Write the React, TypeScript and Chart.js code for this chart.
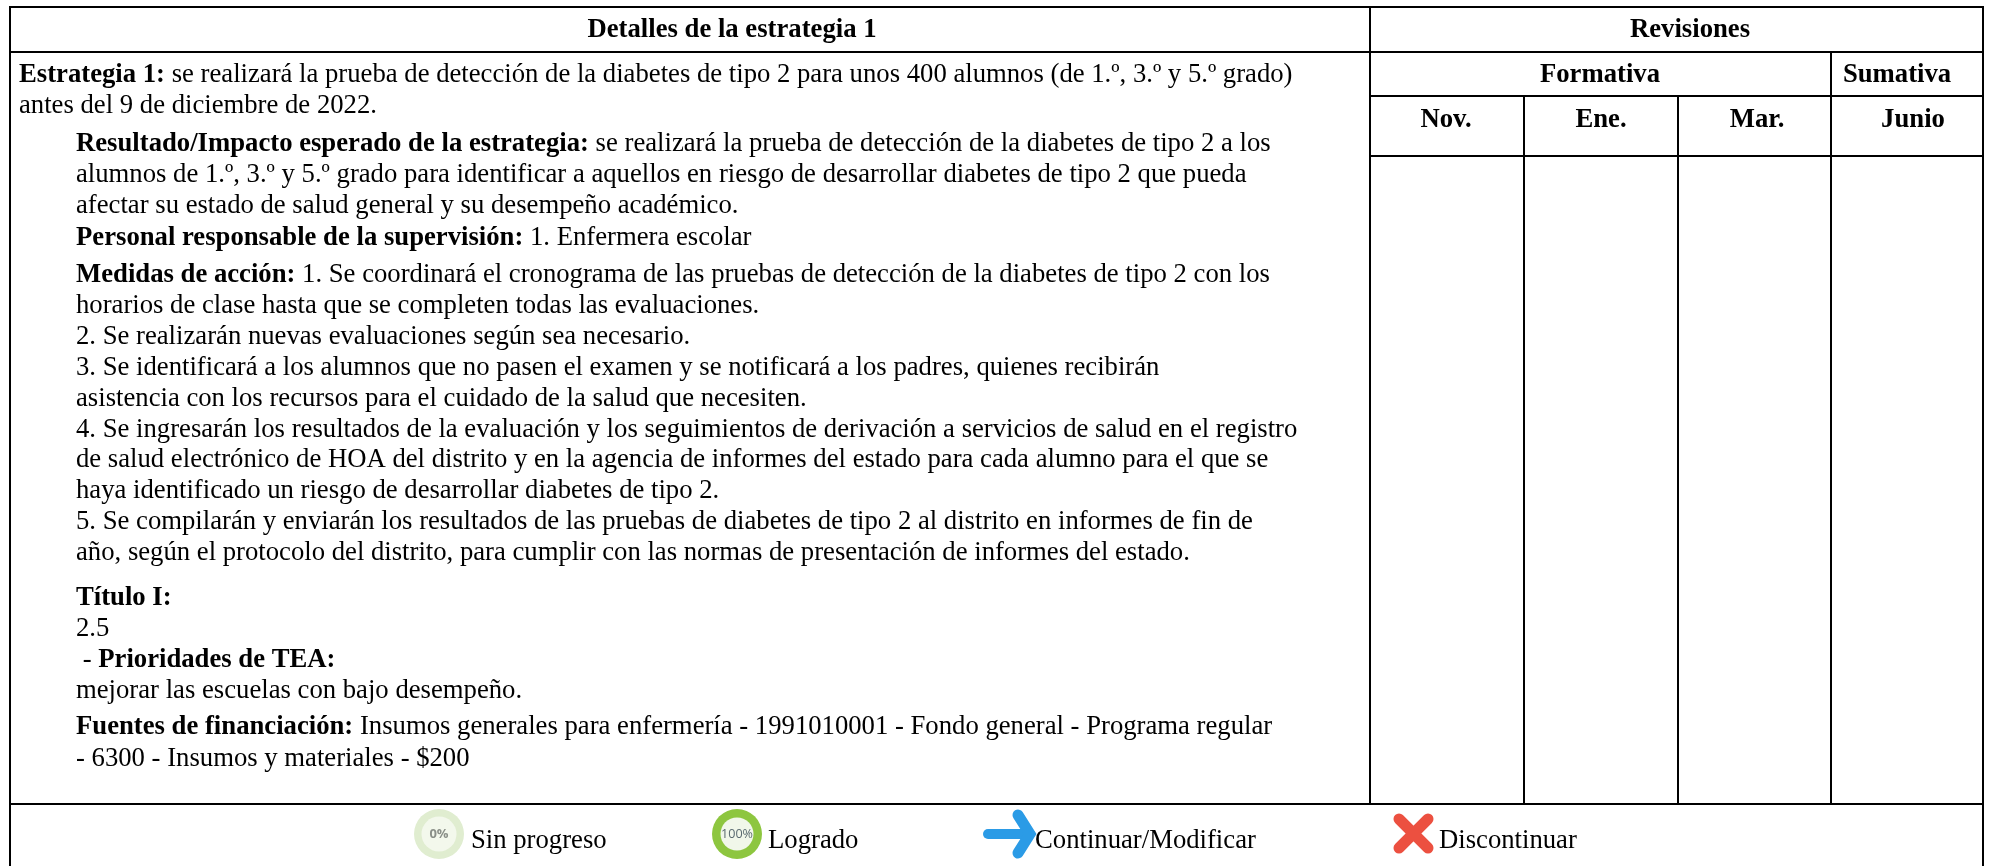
import React, { useEffect, useRef } from "react";
import { Chart, registerables } from "chart.js";

Chart.register(...registerables);

const WIDTH = 1989;
const HEIGHT = 866;

// Table content
const tableHeaders = ["Detalles de la estrategia 1", "Revisiones"];
const reviewGroups = ["Formativa", "Sumativa"];
const reviewMonths = ["Nov.", "Ene.", "Mar.", "Junio"];
const legendLabels = ["Sin progreso", "Logrado", "Continuar/Modificar", "Discontinuar"];

type Run = [string, boolean];
const bodyLines: Run[][] = [
  [["Estrategia 1:", true], [" se realizará la prueba de detección de la diabetes de tipo 2 para unos 400 alumnos (de 1.º, 3.º y 5.º grado)", false]],
  [["antes del 9 de diciembre de 2022.", false]],
  [["Resultado/Impacto esperado de la estrategia:", true], [" se realizará la prueba de detección de la diabetes de tipo 2 a los", false]],
  [["alumnos de 1.º, 3.º y 5.º grado para identificar a aquellos en riesgo de desarrollar diabetes de tipo 2 que pueda", false]],
  [["afectar su estado de salud general y su desempeño académico.", false]],
  [["Personal responsable de la supervisión:", true], [" 1. Enfermera escolar", false]],
  [["Medidas de acción:", true], [" 1. Se coordinará el cronograma de las pruebas de detección de la diabetes de tipo 2 con los", false]],
  [["horarios de clase hasta que se completen todas las evaluaciones.", false]],
  [["2. Se realizarán nuevas evaluaciones según sea necesario.", false]],
  [["3. Se identificará a los alumnos que no pasen el examen y se notificará a los padres, quienes recibirán", false]],
  [["asistencia con los recursos para el cuidado de la salud que necesiten.", false]],
  [["4. Se ingresarán los resultados de la evaluación y los seguimientos de derivación a servicios de salud en el registro", false]],
  [["de salud electrónico de HOA del distrito y en la agencia de informes del estado para cada alumno para el que se", false]],
  [["haya identificado un riesgo de desarrollar diabetes de tipo 2.", false]],
  [["5. Se compilarán y enviarán los resultados de las pruebas de diabetes de tipo 2 al distrito en informes de fin de", false]],
  [["año, según el protocolo del distrito, para cumplir con las normas de presentación de informes del estado.", false]],
  [["Título I:", true]],
  [["2.5", false]],
  [[" - ", false], ["Prioridades de TEA:", true]],
  [["mejorar las escuelas con bajo desempeño.", false]],
  [["Fuentes de financiación:", true], [" Insumos generales para enfermería - 1991010001 - Fondo general - Programa regular", false]],
  [["- 6300 - Insumos y materiales - $200", false]],
];

// Layout of the table, in canvas units
const bodyX = [19, 19, 76, 76, 76, 76, 76, 76, 76, 76, 76, 76, 76, 76, 76, 76, 76, 76, 76, 76, 76, 76];
const bodyY = [82, 113, 151, 182, 213, 245, 282, 313, 344, 375, 406, 437, 467, 498, 529, 560, 605, 636, 667, 698, 734, 766];
const colEdges = [10, 1370, 1524, 1678, 1831, 1983];
const rowEdges = [7, 52, 96, 156, 804, 866];
const FONT_SIZE = 26.7;

function App() {
  const ref = useRef<HTMLCanvasElement>(null);
  useEffect(() => {
    document.body.style.margin = "0";
    const [c0, c1, c2, c3, c4, c5] = colEdges;
    const [r0, r1, r2, r3, r4, r5] = rowEdges;
    const segments = [
      [c0, r0, c5, r0], [c0, r1, c5, r1], [c1, r2, c5, r2], [c1, r3, c5, r3], [c0, r4, c5, r4],
      [c0, r0, c0, r5], [c5, r0, c5, r5], [c1, r0, c1, r4], [c4, r1, c4, r4], [c2, r2, c2, r4], [c3, r2, c3, r4],
    ];
    const datasets = segments.map((s) => ({
      type: "line" as const,
      data: [{ x: s[0], y: s[1] }, { x: s[2], y: s[3] }],
      borderColor: "#000",
      borderWidth: 2,
      borderCapStyle: "square" as const,
      pointRadius: 0,
      tension: 0,
      clip: false as const,
    }));
    const textPlugin = {
      id: "tableText",
      afterDraw(chart: any) {
        const { ctx, scales } = chart;
        const X = (v: number) => scales.x.getPixelForValue(v);
        const Y = (v: number) => scales.y.getPixelForValue(v);
        const fam = '"Liberation Serif"';
        const font = (b: boolean, size = FONT_SIZE) => `${b ? "bold " : ""}${size}px ${fam}`;
        ctx.save();
        ctx.fillStyle = "#000";
        ctx.textBaseline = "alphabetic";
        ctx.textAlign = "left";
        bodyLines.forEach((runs, i) => {
          let x = X(bodyX[i]);
          runs.forEach(([t, b]) => {
            ctx.font = font(b);
            ctx.fillText(t, x, Y(bodyY[i]));
            x += ctx.measureText(t).width;
          });
        });
        ctx.textAlign = "center";
        ctx.font = font(true);
        ctx.fillText(tableHeaders[0], X(732), Y(37));
        ctx.fillText(tableHeaders[1], X(1690), Y(37));
        ctx.fillText(reviewGroups[0], X(1600), Y(82));
        ctx.fillText(reviewGroups[1], X(1897), Y(82));
        const mx = [1446, 1601, 1757, 1913];
        reviewMonths.forEach((m, i) => ctx.fillText(m, X(mx[i]), Y(127)));
        ctx.textAlign = "left";
        ctx.font = font(false);
        const lx = [471, 768, 1035, 1439];
        legendLabels.forEach((t, i) => ctx.fillText(t, X(lx[i]), Y(848)));

        // legend icons
        const ring = (cx: number, cy: number, outer: number, inner: number, ringC: string, innerC: string) => {
          ctx.beginPath();
          ctx.arc(X(cx), Y(cy), outer, 0, Math.PI * 2);
          ctx.fillStyle = ringC;
          ctx.fill();
          ctx.beginPath();
          ctx.arc(X(cx), Y(cy), inner, 0, Math.PI * 2);
          ctx.fillStyle = innerC;
          ctx.fill();
        };
        ring(439, 834, 25, 17.5, "#e0edd0", "#f3f8ec");
        ring(737, 834, 25, 16.5, "#8dc63f", "#f1f7ea");
        ctx.textAlign = "center";
        ctx.textBaseline = "middle";
        ctx.font = 'bold 13px "Open Sans"';
        ctx.fillStyle = "#8a8f88";
        ctx.fillText("0%", X(439), Y(834));
        ctx.font = '12.6px "Open Sans"';
        ctx.fillStyle = "#5a6a70";
        ctx.fillText("100%", X(737), Y(834));

        const strokePath = (pts: number[][], w: number, c: string) => {
          ctx.beginPath();
          pts.forEach((p, i) => (i ? ctx.lineTo(X(p[0]), Y(p[1])) : ctx.moveTo(X(p[0]), Y(p[1]))));
          ctx.lineWidth = w;
          ctx.strokeStyle = c;
          ctx.lineCap = "round";
          ctx.lineJoin = "miter";
          ctx.stroke();
        };
        strokePath([[988, 834], [1030, 834]], 10, "#2b9be6");
        strokePath([[1018, 815], [1030, 834], [1018, 853]], 11, "#2b9be6");
        strokePath([[1399, 819], [1428, 848]], 11, "#ec5040");
        strokePath([[1428, 819], [1399, 848]], 11, "#ec5040");
        ctx.restore();
      },
    };
    const chart = new Chart(ref.current!, {
      type: "line",
      data: { datasets },
      options: {
        animation: false,
        responsive: false,
        events: [],
        layout: { padding: 0 },
        plugins: { legend: { display: false }, tooltip: { enabled: false } },
        scales: {
          x: { type: "linear", min: 0, max: WIDTH, display: false },
          y: { type: "linear", min: 0, max: HEIGHT, reverse: true, display: false },
        },
      },
      plugins: [textPlugin],
    });
    return () => chart.destroy();
  }, []);
  return <canvas ref={ref} width={WIDTH} height={HEIGHT} style={{ display: "block" }} />;
}

export default App;
